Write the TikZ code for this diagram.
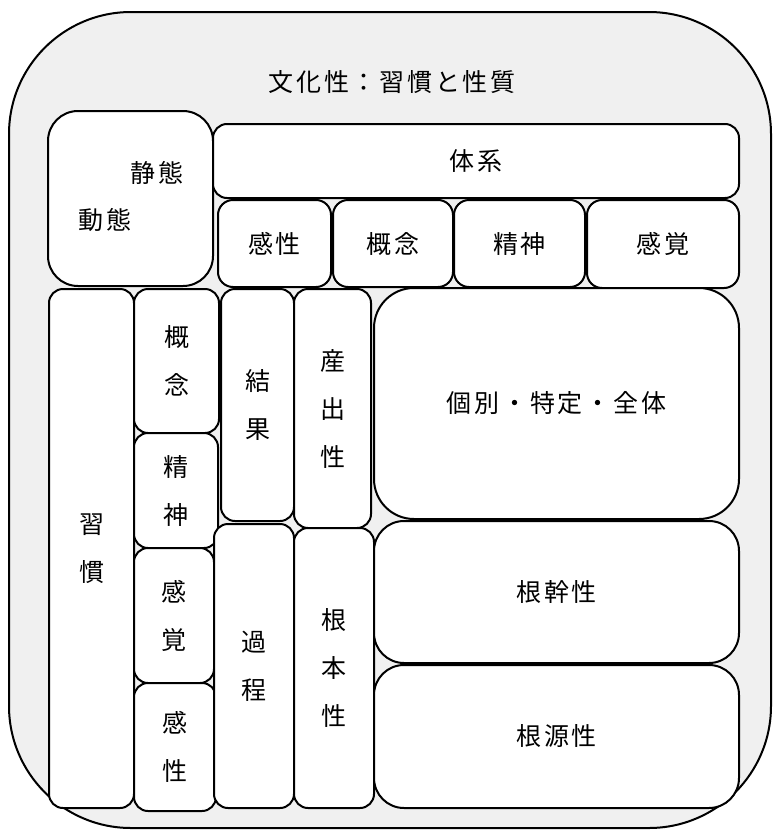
\documentclass[tikz,border=0pt]{standalone}
\usepackage{fontspec}
\setmainfont{Noto Sans CJK JP}[LetterSpace=11]
\begin{document}
\begin{tikzpicture}[x=1pt,y=-1pt,
  lbl/.style={font=\fontsize{25}{48}\selectfont, text=black, align=center},
  box/.style={draw=black, line width=2pt, fill=white, rounded corners=#1, inner sep=0pt},
  box/.default=14pt,
  at nw/.style n args={4}{anchor=north west, minimum width=#3pt-#1pt, minimum height=#4pt-#2pt}]
\useasboundingbox (0,0) rectangle (772,830);
% outer
\draw[line width=2pt, fill={rgb,255:red,240;green,240;blue,240}, rounded corners=122pt] (9,12) rectangle (771,828);
\node[lbl] (title) at (392,82) {文化性：習慣と性質};
\node[box=30pt, at nw={47}{110}{212}{285}] (dyn) at (47,110) {};
\node[lbl] (seitai) at (157,173) {静態};
\node[lbl] (doutai) at (105,220) {動態};
\node[box=14pt, lbl, at nw={212}{123}{738}{197}] (taikei) at (212,123) {体系};
\node[box=15pt, lbl, at nw={217}{199}{330}{286}] (r2a) at (217,199) {感性};
\node[box=15pt, lbl, at nw={332}{199}{452}{286}] (r2b) at (332,199) {概念};
\node[box=15pt, lbl, at nw={453}{199}{584}{286}] (r2c) at (453,199) {精神};
\node[box=15pt, lbl, at nw={586}{199}{738}{287}] (r2d) at (586,199) {感覚};
\node[box=14pt, lbl, at nw={48}{288}{133}{807}] (shukan) at (48,288) {習\\慣};
\node[box=14pt, lbl, at nw={133}{288}{218}{432}] (c1) at (133,288) {概\\念};
\node[box=14pt, lbl, at nw={133}{432}{217}{547}] (c2) at (133,432) {精\\神};
\node[box=14pt, lbl, at nw={133}{547}{213}{682}] (c3) at (133,547) {感\\覚};
\node[box=14pt, lbl, at nw={133}{682}{215}{810}] (c4) at (133,682) {感\\性};
\node[box=14pt, lbl, at nw={220}{288}{293}{520}] (kekka) at (220,288) {結\\果};
\node[box=14pt, lbl, at nw={293}{288}{370}{527}] (sanshutsu) at (293,288) {産\\出\\性};
\node[box=14pt, lbl, at nw={213}{523}{293}{807}] (katei) at (213,523) {過\\程};
\node[box=14pt, lbl, at nw={293}{527}{373}{807}] (konpon) at (293,527) {根\\本\\性};
\node[box=40pt, lbl, at nw={373}{287}{738}{518}] (kobetsu) at (373,287) {個別・特定・全体};
\node[box=30pt, lbl, at nw={373}{520}{738}{662}] (konkan) at (373,520) {根幹性};
\node[box=30pt, lbl, at nw={373}{664}{738}{807}] (kongen) at (373,664) {根源性};
\end{tikzpicture}
\end{document}
